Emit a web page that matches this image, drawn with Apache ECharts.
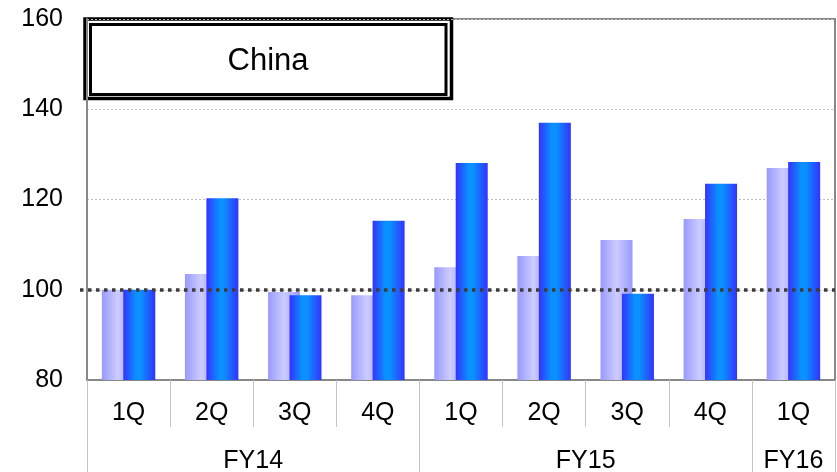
<!DOCTYPE html>
<html>
<head>
<meta charset="utf-8">
<script src="https://cdn.jsdelivr.net/npm/echarts@6/dist/echarts.min.js"></script>
<style>
  html, body { margin: 0; padding: 0; background: #ffffff; }
  #chart { width: 837px; height: 472px; }
</style>
</head>
<body>
<div id="chart"></div>
<script>
// Quarterly index, China (base = 100)
const quarters = ['1Q', '2Q', '3Q', '4Q', '1Q', '2Q', '3Q', '4Q', '1Q'];
const fiscalYears = ['FY14', 'FY15', 'FY16'];
const quartersPerYear = [4, 4, 1];
const seriesLight = [100, 103.5, 99.5, 98.8, 105, 107.5, 111, 115.7, 127];
const seriesBlue = [100, 120.3, 98.8, 115.3, 128.1, 137, 99.1, 123.5, 128.3];
const yTicks = [80, 100, 120, 140, 160];
const baseline = 100;
const panelTitle = 'China';

const FONT = '"Liberation Sans", Arial, sans-serif';

// Fiscal-year group boundaries and centres on a 0..N scale
const groupEdges = [0];
const groupCentres = [];
const groupNameAt = {};
quartersPerYear.forEach(function (n, i) {
  const start = groupEdges[groupEdges.length - 1];
  const centre = start + n / 2;
  groupCentres.push(centre);
  groupNameAt[centre] = fiscalYears[i];
  groupEdges.push(start + n);
});

const chart = echarts.init(document.getElementById('chart'), null, { renderer: 'canvas' });

const lightGradient = new echarts.graphic.LinearGradient(0, 0, 1, 0, [
  { offset: 0, color: '#9999ff' },
  { offset: 0.5, color: '#ccccff' },
  { offset: 1, color: '#9999ff' }
]);
const blueGradient = new echarts.graphic.LinearGradient(0, 0, 1, 0, [
  { offset: 0, color: '#3333ff' },
  { offset: 0.4, color: '#0a90ff' },
  { offset: 0.55, color: '#0a90ff' },
  { offset: 1, color: '#3333ff' }
]);

chart.setOption({
  animation: false,
  backgroundColor: '#ffffff',
  grid: {
    left: 87, right: 2, top: 19, bottom: 92,
    show: true, borderColor: '#888888', borderWidth: 2,
    containLabel: false,
    outerBoundsMode: 'none'
  },
  xAxis: [
    {
      type: 'category',
      data: quarters,
      position: 'bottom',
      axisLine: { show: true, lineStyle: { color: '#888888', width: 2 } },
      axisTick: { show: true, interval: 0, length: 47, lineStyle: { color: '#c4c4c4', width: 1 } },
      axisLabel: { interval: 0, margin: 21, color: '#000000', fontSize: 25, fontFamily: FONT },
      splitLine: { show: false }
    },
    {
      type: 'value',
      min: 0,
      max: quarters.length,
      position: 'bottom',
      axisLine: { show: false },
      splitLine: { show: false },
      axisTick: {
        show: true, customValues: groupEdges, length: 92,
        lineStyle: { color: '#c4c4c4', width: 1 }
      },
      axisLabel: {
        show: true, customValues: groupCentres, margin: 69,
        color: '#000000', fontSize: 25, fontFamily: FONT,
        formatter: function (v) { return groupNameAt[v] || ''; }
      }
    }
  ],
  yAxis: {
    type: 'value',
    min: yTicks[0],
    max: yTicks[yTicks.length - 1],
    interval: yTicks[1] - yTicks[0],
    axisLine: { show: true, lineStyle: { color: '#888888', width: 2 } },
    axisTick: { show: false },
    axisLabel: { margin: 24, color: '#000000', fontSize: 25, fontFamily: FONT },
    splitLine: { show: true, lineStyle: { color: '#bdbdbd', width: 1, type: [2, 2] } }
  },
  series: [
    {
      type: 'bar',
      xAxisIndex: 0,
      data: seriesLight,
      barWidth: 32,
      barGap: '-33%',
      itemStyle: { color: lightGradient },
      silent: true
    },
    {
      type: 'bar',
      xAxisIndex: 0,
      data: seriesBlue,
      barWidth: 32,
      barGap: '-33%',
      itemStyle: { color: blueGradient },
      silent: true,
      markLine: {
        silent: true,
        symbol: 'none',
        label: { show: false },
        lineStyle: { color: '#3c3c3c', width: 3.5, type: [3.5, 4.5], cap: 'butt' },
        emphasis: { disabled: true },
        data: [[{ x: 80, yAxis: baseline }, { x: 835, yAxis: baseline }]]
      }
    }
  ],
  graphic: [
    {
      type: 'group',
      z: 100,
      children: [
        {
          type: 'rect',
          shape: { x: 85, y: 19, width: 366.5, height: 79.5 },
          style: { fill: '#ffffff', stroke: '#000000', lineWidth: 3.5 }
        },
        {
          type: 'rect',
          shape: { x: 90.5, y: 24.5, width: 355.5, height: 70 },
          style: { fill: '#ffffff', stroke: '#000000', lineWidth: 3 }
        },
        {
          type: 'text',
          x: 268,
          y: 61,
          style: {
            text: panelTitle,
            fill: '#000000',
            font: '31px ' + FONT,
            align: 'center',
            verticalAlign: 'middle'
          }
        }
      ]
    }
  ]
});
</script>
</body>
</html>
